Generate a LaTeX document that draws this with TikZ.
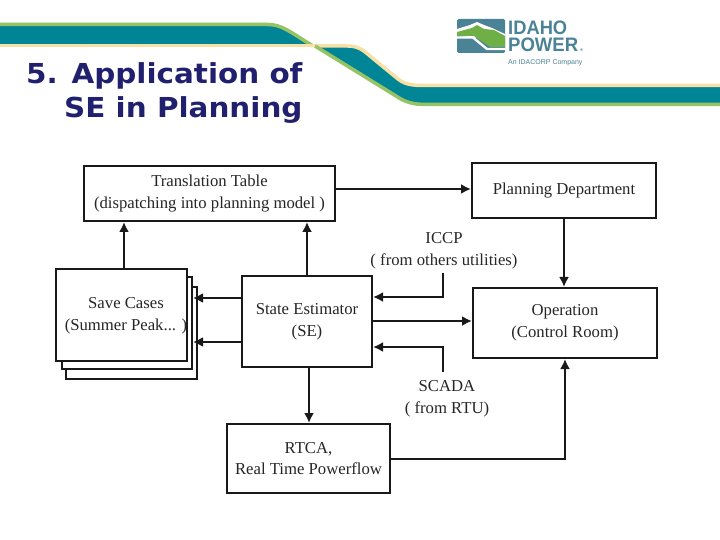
\documentclass[tikz,border=0pt]{standalone}
\usepackage{fontspec}
\setmainfont{Liberation Serif}
\newfontfamily\titlefont{DejaVu Sans}
\newfontfamily\logofont{Liberation Sans}
\usetikzlibrary{arrows.meta}
\definecolor{teal1}{RGB}{0,133,150}
\definecolor{lgreen}{RGB}{150,195,100}
\definecolor{cream}{RGB}{245,225,165}
\definecolor{navy1}{RGB}{32,32,110}
\definecolor{logoblue}{RGB}{74,130,150}
\definecolor{logogreen}{RGB}{110,175,70}
\tikzset{
 bx/.style={draw=black!90,line width=2bp,fill=white,inner sep=0},
 lbl/.style={font=\fontsize{16.7bp}{21.7bp}\selectfont,align=center,text=black!85,inner sep=0},
 arr/.style={draw=black!90,line width=2bp,-{Latex[length=10bp,width=10bp]}},
 ttl/.style={font=\titlefont\bfseries\fontsize{27.5bp}{32bp}\selectfont,text=navy1,anchor=base west,inner sep=0,xscale=1.07},
 logot/.style={anchor=base west,inner sep=0,text=logoblue,font=\logofont\bfseries\fontsize{19.5bp}{16bp}\selectfont},
}
\begin{document}
\begin{tikzpicture}[x=1bp,y=-1bp]
\useasboundingbox (0,0) rectangle (720,540);
% lower band
\fill[teal1] (315,46) -- (348,46) .. controls (360,46) and (365,52) .. (373,58.5) -- (398,79) .. controls (405,84.5) and (412,85.5) .. (425,85.5) -- (720,85.5) -- (720,104.5) -- (427,104.5) .. controls (412,104.5) and (405,102) .. (396,96) -- cycle;
\draw[cream,line width=3.5bp] (315,46) -- (348,46) .. controls (360,46) and (365,52) .. (373,58.5) -- (398,79) .. controls (405,84.5) and (412,85.5) .. (425,85.5) -- (720,85.5);
\draw[lgreen,line width=3.5bp] (720,104.5) -- (427,104.5) .. controls (412,104.5) and (405,102) .. (396,96) -- (315,46);
% upper band
\fill[teal1] (0,24.5) -- (268,24.5) .. controls (282,24.5) and (290,32) .. (313,46) -- (0,45.5) -- cycle;
\draw[lgreen,line width=3.5bp] (0,24.5) -- (268,24.5) .. controls (282,24.5) and (290,32) .. (313,46);
\draw[cream,line width=3.5bp] (0,45.7) -- (315,45.7);
% title
\node[ttl] (t1) at (26,84) {5. Application of};
\node[ttl] (t2) at (64,118) {SE in Planning};
% logo
\fill[logoblue,rounded corners=1.5bp] (457,19) rectangle (505,53);
\fill[white] (457,29) -- (470,25) -- (477,22) -- (484,25) -- (492,28) -- (505,34) -- (505,40) -- (457,36) -- cycle;
\fill[logogreen] (457,32) -- (472,28) -- (477,25) -- (484,29) -- (494,30) -- (505,36) -- (505,47) -- (490,47) -- (474,36) -- (457,36) -- cycle;
\draw[white,line width=2.4bp] (457,37.5) -- (473,37.5) -- (487,49) -- (505,49);
\node[logot,xscale=.94] (l1) at (508,34.5) {IDAHO};
\node[logot,xscale=.95] (l2) at (508,51.5) {POWER};
\node[anchor=base west,inner sep=0,text=logoblue,font=\logofont\bfseries\fontsize{4bp}{4bp}\selectfont] (l4) at (580,51.5) {®};
\node[anchor=base west,inner sep=0,text=logoblue,font=\logofont\fontsize{7bp}{8bp}\selectfont] (l3) at (508,65) {An IDACORP Company};
% stacks
\node[bx,minimum width=131bp,minimum height=92bp] (s3) at (131.5,333) {};
\node[bx,minimum width=130bp,minimum height=92bp] (s2) at (127,323) {};
\node[bx,minimum width=131bp,minimum height=92bp] (s1) at (121.5,315) {};
\node[lbl] (sc) at (126,316) {Save Cases\\(Summer Peak... )};
% boxes
\node[bx,lbl,minimum width=251bp,minimum height=55bp] (tt) at (209.5,193.5) {Translation Table\\(dispatching into planning model )};
\node[bx,lbl,minimum width=184bp,minimum height=55bp] (pd) at (564,190.5) {Planning Department};
\node[bx,lbl,minimum width=130bp,minimum height=91bp] (se) at (307,321.5) {State Estimator\\(SE)};
\node[bx,lbl,minimum width=184bp,minimum height=70bp] (op) at (565,323) {Operation\\(Control Room)};
\node[bx,lbl,minimum width=163bp,minimum height=69bp] (rt) at (308.5,458.5) {RTCA,\\Real Time Powerflow};
% labels
\node[lbl] (ic) at (444,251) {ICCP\\( from others utilities)};
\node[lbl] (sd) at (447,399) {SCADA\\( from RTU)};
% connectors
\coordinate (icf) at (443,273);
\coordinate (sdf) at (443,372);
\draw[arr] (tt.east |- 0,189) -- (pd.west |- 0,189);
\draw[arr] (pd.south) -- (pd.south |- op.north);
\draw[arr] (s1.north -| 124,0) -- (tt.south -| 124,0);
\draw[arr] (se.north) -- (tt.south -| se.north);
\draw[arr] (se.east |- 0,321) -- (op.west |- 0,321);
\draw[arr] (icf) -- (icf |- 0,297) -- (se.east |- 0,297);
\draw[arr] (sdf) -- (sdf |- 0,347) -- (se.east |- 0,347);
\draw[arr] (se.west |- 0,298) -- (s2.east |- 0,298);
\draw[arr] (se.west |- 0,342) -- (s2.east |- 0,342);
\draw[arr] (se.south -| 309,0) -- (rt.north -| 309,0);
\draw[arr] (rt.east |- 0,459) -- (565,459) -- (op.south);
\end{tikzpicture}
\end{document}
